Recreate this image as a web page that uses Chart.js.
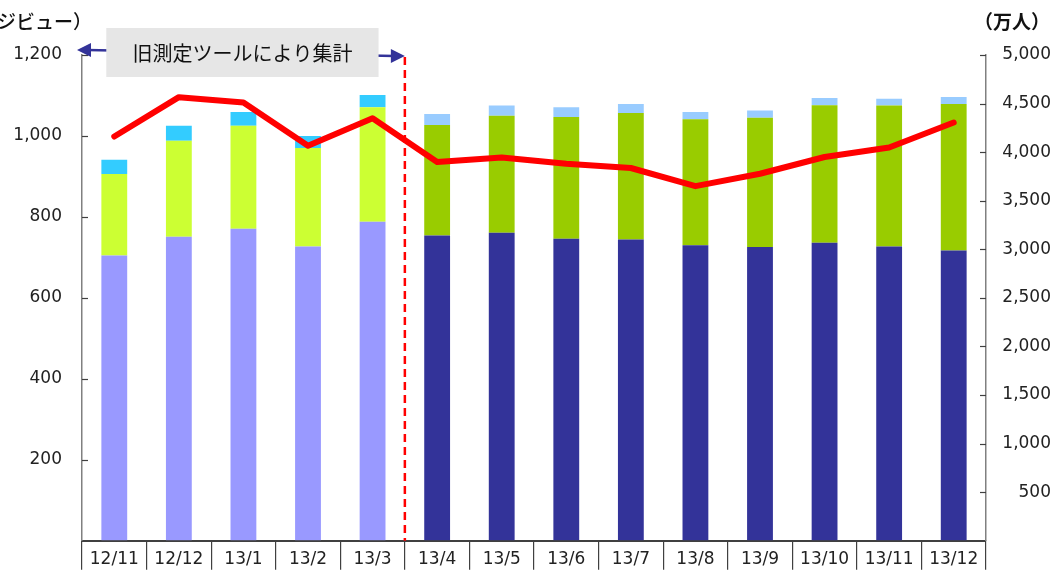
<!DOCTYPE html>
<html><head><meta charset="utf-8">
<script src="https://cdn.jsdelivr.net/npm/chart.js@4.4.0/dist/chart.umd.min.js"></script>
<style>html,body{margin:0;padding:0;background:#fff;overflow:hidden}#wrap{width:1062px;height:571px;position:relative}</style>
</head><body><div id="wrap"><canvas id="c" width="1062" height="571"></canvas></div>
<script>
// ---- data ----
const categories = ['12/11','12/12','13/1','13/2','13/3','13/4','13/5','13/6','13/7','13/8','13/9','13/10','13/11','13/12'];
const pvBase = [705,751,771,727,788,754,761,746,744,730,726,736,727,717];
const pvMid  = [201,237,254,243,283,273,289,301,313,311,319,340,348,362];
const pvTop  = [35,37,34,30,30,27,25,24,22,18,18,18,17,17];
const visitors = [4161,4566,4510,4066,4350,3898,3946,3881,3837,3650,3778,3950,4048,4305];
const oldToolCount = 5;
const leftTicks = [0,200,400,600,800,1000,1200];
const rightTicks = [0,500,1000,1500,2000,2500,3000,3500,4000,4500,5000];
const leftTitle = '（ページビュー）';
const rightTitle = '（万人）';
const noteText = '旧測定ツールにより集計';

// ---- styles ----
const oldCols = ['#9999FF','#CCFF33','#33CCFF'];
const newCols = ['#333399','#99CC00','#99CCFF'];
const colFor = k => categories.map((_, i) => i < oldToolCount ? oldCols[k] : newCols[k]);

const FONT = "'DejaVu Sans', sans-serif";
Chart.defaults.font.family = FONT;
Chart.defaults.color = '#222';

const overlay = {
  id: 'overlay',
  afterDatasetsDraw(chart) {
    const ctx = chart.ctx, a = chart.chartArea;
    const x = chart.scales.x, yl = chart.scales.y, yr = chart.scales.y1;
    ctx.save();
    // inward ticks
    ctx.strokeStyle = '#404040'; ctx.lineWidth = 1.2;
    leftTicks.forEach(v => { if (!v) return; const py = Math.round(yl.getPixelForValue(v)) + 0.5;
      ctx.beginPath(); ctx.moveTo(a.left, py); ctx.lineTo(a.left + 6, py); ctx.stroke(); });
    rightTicks.forEach(v => { if (!v) return; const py = Math.round(yr.getPixelForValue(v)) + 0.5;
      ctx.beginPath(); ctx.moveTo(a.right, py); ctx.lineTo(a.right - 6, py); ctx.stroke(); });
    // divider dashed line
    const dx = (x.getPixelForValue(oldToolCount - 1) + x.getPixelForValue(oldToolCount)) / 2;
    ctx.strokeStyle = '#FF0000'; ctx.lineWidth = 2.5; ctx.setLineDash([8,5]);
    ctx.beginPath(); ctx.moveTo(dx, a.top + 2); ctx.lineTo(dx, a.bottom); ctx.stroke();
    ctx.setLineDash([]);
    // arrow line
    const ax1 = a.left - 5, ay1 = a.top - 5, ax2 = dx, ay2 = a.top + 1;
    ctx.strokeStyle = '#333399'; ctx.fillStyle = '#333399'; ctx.lineWidth = 2.5;
    ctx.beginPath(); ctx.moveTo(ax1 + 10, ay1); ctx.lineTo(ax2 - 10, ay2); ctx.stroke();
    const head = (tx, ty, dir) => { ctx.beginPath(); ctx.moveTo(tx, ty); ctx.lineTo(tx - dir*14, ty - 7); ctx.lineTo(tx - dir*14, ty + 7); ctx.closePath(); ctx.fill(); };
    head(ax1, ay1, -1); head(ax2, ay2, 1);
    // note box
    const bl = x.getPixelForValue(0) - 8, br = x.getPixelForValue(oldToolCount - 1) + 6;
    const bt = a.top - 27, bb = a.top + 22;
    ctx.fillStyle = '#E6E6E6'; ctx.fillRect(bl, bt, br - bl, bb - bt);
    ctx.fillStyle = '#111'; ctx.font = "20px 'Noto Sans CJK JP'"; ctx.textAlign = 'center'; ctx.textBaseline = 'middle';
    ctx.fillText(noteText, (bl + br) / 2, (bt + bb) / 2 + 1);
    // axis titles
    ctx.font = "500 19px 'Noto Sans CJK JP'"; ctx.fillStyle = '#111';
    ctx.textAlign = 'right'; ctx.fillText(leftTitle, a.left + 10, 22);
    ctx.font = "bold 19px 'Noto Sans CJK JP'";
    ctx.textAlign = 'left'; ctx.fillText(rightTitle, a.right - 12, 22);
    ctx.restore();
  }
};

new Chart(document.getElementById('c'), {
  type: 'bar',
  data: {
    labels: categories,
    datasets: [
      { type: 'line', data: visitors, yAxisID: 'y1', borderColor: '#FF0000', borderWidth: 6,
        pointRadius: 0, borderCapStyle: 'round', borderJoinStyle: 'round', tension: 0, order: 0 },
      { data: pvBase, backgroundColor: colFor(0), yAxisID: 'y', stack: 's', order: 1 },
      { data: pvMid, backgroundColor: colFor(1), yAxisID: 'y', stack: 's', order: 1 },
      { data: pvTop, backgroundColor: colFor(2), yAxisID: 'y', stack: 's', order: 1 }
    ]
  },
  options: {
    responsive: false, animation: false, devicePixelRatio: 1,
    layout: { padding: { left: 0, right: 11, top: 55, bottom: 0 } },
    plugins: { legend: { display: false }, tooltip: { enabled: false } },
    datasets: { bar: { categoryPercentage: 1, barPercentage: 0.4 } },
    scales: {
      x: {
        stacked: true, offset: true,
        grid: { offset: true, drawOnChartArea: false, drawTicks: true, tickLength: 29, color: '#404040', lineWidth: 1.2 },
        border: { display: true, color: '#404040', width: 2 },
        ticks: { font: { size: 17 }, padding: -20, maxRotation: 0, autoSkip: false, color: '#222' },
        afterFit(s) { s.height = 29; }
      },
      y: {
        position: 'left', stacked: true, min: 0, max: 1200,
        afterBuildTicks(s) { s.ticks = leftTicks.map(v => ({ value: v })); },
        grid: { display: true, drawOnChartArea: false, drawTicks: false },
        border: { display: true, color: '#808080', width: 1.5 },
        ticks: { font: { size: 17 }, padding: 20, color: '#222',
          callback: v => v === 0 ? '' : v.toLocaleString('en-US') },
        afterFit(s) { s.width = 82; }
      },
      y1: {
        position: 'right', min: 0, max: 5000,
        afterBuildTicks(s) { s.ticks = rightTicks.map(v => ({ value: v })); },
        grid: { display: true, drawOnChartArea: false, drawTicks: false },
        border: { display: true, color: '#808080', width: 1.5 },
        ticks: { font: { size: 17 }, padding: 20, crossAlign: 'far', color: '#222',
          callback: v => v === 0 ? '' : v.toLocaleString('en-US') },
        afterFit(s) { s.width = 65; }
      }
    }
  },
  plugins: [overlay]
});
</script></body></html>
